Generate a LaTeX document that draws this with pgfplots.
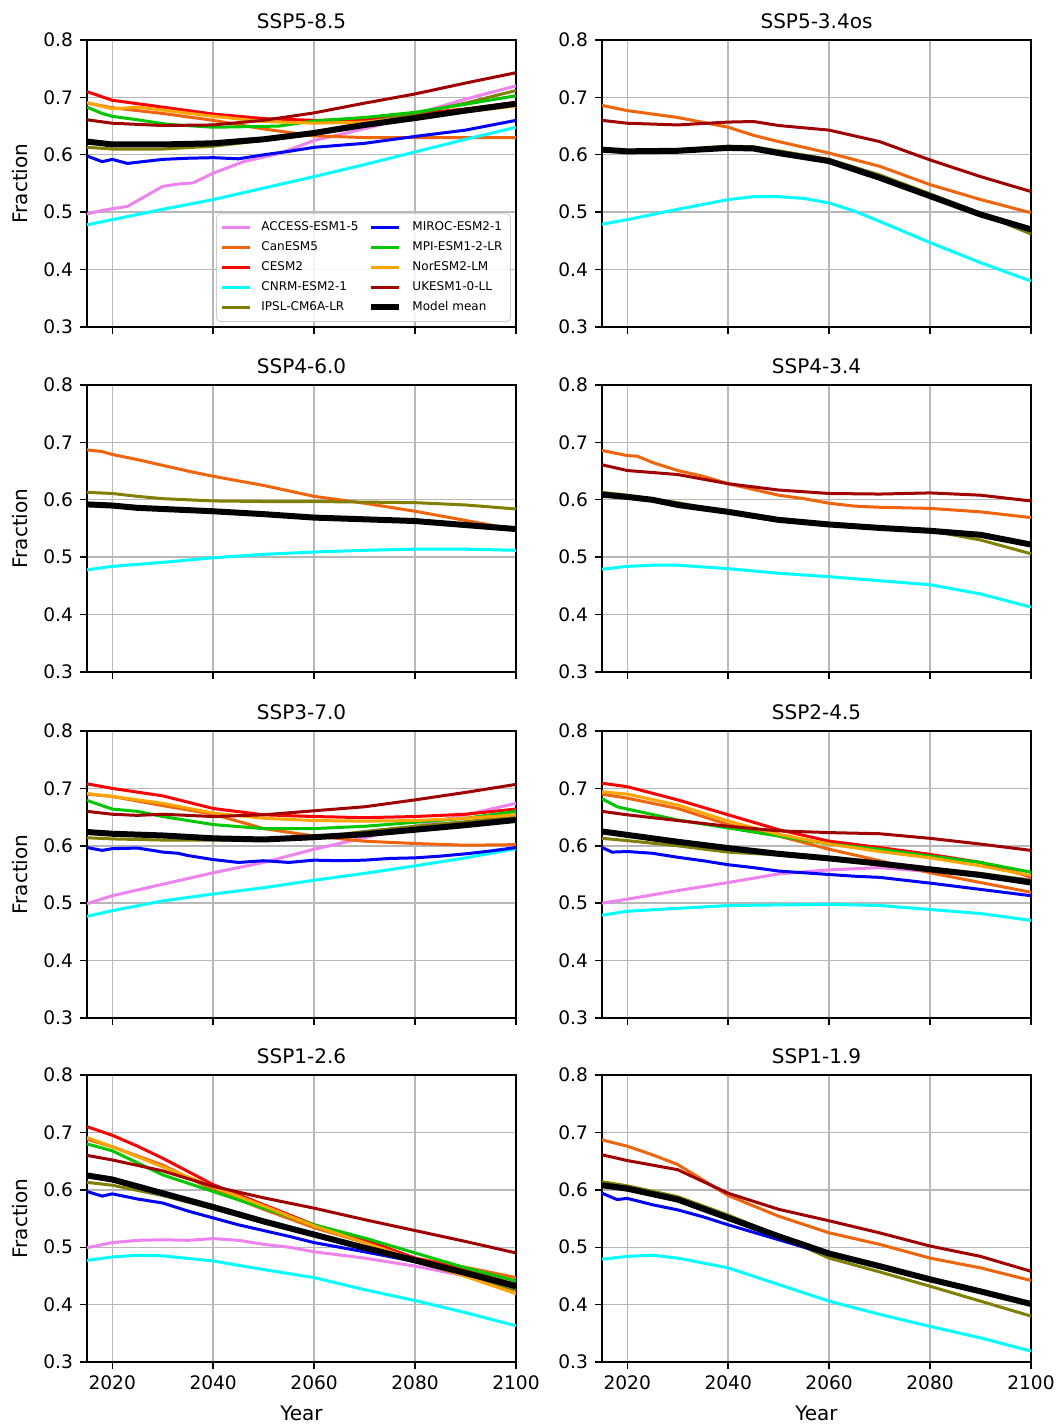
\documentclass[border=0pt]{standalone}
\usepackage{fontspec}
\setmainfont{DejaVu Sans}
\usepackage{pgfplots}
\pgfplotsset{compat=1.18}
\definecolor{cACC}{RGB}{238,130,238}
\definecolor{cCan}{RGB}{240,100,10}
\definecolor{cCESM}{RGB}{255,0,0}
\definecolor{cCNRM}{RGB}{0,255,255}
\definecolor{cIPSL}{RGB}{128,128,0}
\definecolor{cMIROC}{RGB}{0,0,255}
\definecolor{cMPI}{RGB}{0,200,0}
\definecolor{cNor}{RGB}{255,165,0}
\definecolor{cUK}{RGB}{160,0,0}
\pgfplotsset{
  acc/.style={color=cACC, line width=1.5pt},
  can/.style={color=cCan, line width=1.5pt},
  cesm/.style={color=cCESM, line width=1.5pt},
  cnrm/.style={color=cCNRM, line width=1.5pt},
  ipsl/.style={color=cIPSL, line width=1.5pt},
  miroc/.style={color=cMIROC, line width=1.5pt},
  mpi/.style={color=cMPI, line width=1.5pt},
  nor/.style={color=cNor, line width=1.5pt},
  uk/.style={color=cUK, line width=1.5pt},
  mean/.style={color=black, line width=3pt},
  panel/.style={
    scale only axis, width=214.5pt, height=143.5pt, anchor=south west,
    xmin=2015, xmax=2100, ymin=0.3, ymax=0.8,
    xtick={2020,2040,2060,2080,2100},
    ytick={0.3,0.4,0.5,0.6,0.7,0.8},
    grid=major, grid style={color=black!28, line width=0.7pt},
    axis line style={line width=0.7pt},
    tick style={line width=0.7pt, color=black},
    major tick length=3.5pt,
    tick align=outside, tick pos=left,
    /pgf/number format/assume math mode=true,
    /pgf/number format/1000 sep={},
    yticklabel style={/pgf/number format/fixed, /pgf/number format/precision=1, /pgf/number format/fixed zerofill},
    every tick label/.append style={font=\fontsize{9.3}{11}\selectfont},
    title style={at={(0.5,1)}, anchor=center, yshift=3.5pt, font=\fontsize{10}{12}\selectfont},
    every axis y label/.style={at={(rel axis cs:0,0.5)}, xshift=-33.5pt, rotate=90, anchor=center, font=\fontsize{10}{12}\selectfont},
    every axis x label/.style={at={(rel axis cs:0.5,0)}, yshift=-25.5pt, anchor=center, font=\fontsize{10}{12}\selectfont},
    no markers,
  },
}
\begin{document}
\begin{tikzpicture}
\useasboundingbox (0,0) rectangle (529.5pt,712pt);
% ---------------- SSP5-8.5
\begin{axis}[panel, at={(43.5pt,548.5pt)}, title={SSP5-8.5}, ylabel={Fraction}, xticklabels={},
  legend style={at={(rel axis cs:0.988,0.018)}, anchor=south east, font=\fontsize{6}{7}\selectfont,
    draw=black!20, rounded corners=2pt, fill=white, fill opacity=0.85, text opacity=1, column sep=3pt, inner sep=2pt},
  legend columns=2, legend cell align=left,
  legend image code/.code={\draw[#1] (0pt,0pt) -- (14pt,0pt);}]
\addplot[acc, forget plot] coordinates {(2015,0.497)(2018,0.503)(2020,0.506)(2023,0.510)(2026,0.525)(2030,0.545)(2033,0.549)(2036,0.551)(2040,0.568)(2046,0.588)(2053,0.602)(2060,0.625)(2066,0.637)(2073,0.652)(2080,0.671)(2090,0.697)(2100,0.720)};
\addplot[can, forget plot] coordinates {(2015,0.690)(2020,0.682)(2030,0.672)(2040,0.660)(2050,0.645)(2060,0.633)(2070,0.630)(2080,0.630)(2090,0.630)(2100,0.630)};
\addplot[cesm, forget plot] coordinates {(2015,0.710)(2020,0.695)(2030,0.683)(2040,0.671)(2050,0.663)(2060,0.660)(2070,0.661)(2080,0.671)(2090,0.680)(2100,0.691)};
\addplot[cnrm, forget plot] coordinates {(2015,0.478)(2020,0.487)(2030,0.505)(2040,0.522)(2050,0.542)(2060,0.562)(2070,0.583)(2080,0.605)(2090,0.627)(2100,0.648)};
\addplot[ipsl, forget plot] coordinates {(2015,0.613)(2020,0.610)(2030,0.610)(2040,0.615)(2050,0.625)(2060,0.640)(2070,0.656)(2080,0.672)(2090,0.690)(2100,0.712)};
\addplot[miroc, forget plot] coordinates {(2015,0.598)(2018,0.588)(2020,0.592)(2023,0.585)(2026,0.588)(2030,0.592)(2035,0.594)(2040,0.595)(2045,0.593)(2050,0.600)(2055,0.606)(2060,0.613)(2070,0.620)(2080,0.632)(2090,0.643)(2100,0.660)};
\addplot[mpi, forget plot] coordinates {(2015,0.683)(2018,0.672)(2020,0.667)(2025,0.661)(2031,0.653)(2040,0.648)(2053,0.650)(2060,0.659)(2070,0.665)(2080,0.674)(2090,0.688)(2100,0.703)};
\addplot[nor, forget plot] coordinates {(2015,0.691)(2020,0.680)(2025,0.683)(2030,0.678)(2040,0.667)(2050,0.658)(2060,0.655)(2070,0.657)(2080,0.665)(2090,0.675)(2100,0.685)};
\addplot[uk, forget plot] coordinates {(2015,0.661)(2020,0.655)(2030,0.651)(2040,0.652)(2050,0.660)(2060,0.673)(2070,0.690)(2080,0.706)(2090,0.725)(2100,0.743)};
\addplot[mean, forget plot] coordinates {(2015,0.623)(2020,0.618)(2030,0.618)(2040,0.620)(2050,0.627)(2060,0.638)(2070,0.652)(2080,0.664)(2090,0.677)(2100,0.689)};
\addlegendimage{acc}\addlegendentry{ACCESS-ESM1-5}
\addlegendimage{miroc}\addlegendentry{MIROC-ESM2-1}
\addlegendimage{can}\addlegendentry{CanESM5}
\addlegendimage{mpi}\addlegendentry{MPI-ESM1-2-LR}
\addlegendimage{cesm}\addlegendentry{CESM2}
\addlegendimage{nor}\addlegendentry{NorESM2-LM}
\addlegendimage{cnrm}\addlegendentry{CNRM-ESM2-1}
\addlegendimage{uk}\addlegendentry{UKESM1-0-LL}
\addlegendimage{ipsl}\addlegendentry{IPSL-CM6A-LR}
\addlegendimage{mean}\addlegendentry{Model mean}
\end{axis}
% ---------------- SSP5-3.4os
\begin{axis}[panel, at={(301pt,548.5pt)}, title={SSP5-3.4os}, xticklabels={}]
\addplot[can] coordinates {(2015,0.686)(2020,0.677)(2030,0.665)(2040,0.648)(2045,0.634)(2050,0.623)(2060,0.603)(2070,0.580)(2080,0.548)(2090,0.522)(2100,0.499)};
\addplot[cnrm] coordinates {(2015,0.479)(2020,0.487)(2030,0.505)(2040,0.522)(2045,0.527)(2050,0.527)(2055,0.524)(2060,0.516)(2065,0.502)(2070,0.484)(2080,0.447)(2090,0.412)(2100,0.380)};
\addplot[ipsl] coordinates {(2015,0.610)(2020,0.607)(2030,0.609)(2040,0.615)(2045,0.614)(2050,0.607)(2060,0.592)(2070,0.565)(2080,0.532)(2090,0.498)(2100,0.462)};
\addplot[uk] coordinates {(2015,0.660)(2020,0.655)(2030,0.652)(2040,0.657)(2045,0.658)(2050,0.651)(2060,0.643)(2070,0.623)(2080,0.591)(2090,0.562)(2100,0.536)};
\addplot[mean] coordinates {(2015,0.609)(2020,0.606)(2030,0.607)(2040,0.612)(2045,0.611)(2050,0.603)(2060,0.589)(2070,0.560)(2080,0.528)(2090,0.496)(2100,0.470)};
\end{axis}
% ---------------- SSP4-6.0
\begin{axis}[panel, at={(43.5pt,376pt)}, title={SSP4-6.0}, ylabel={Fraction}, xticklabels={}]
\addplot[can] coordinates {(2015,0.687)(2018,0.684)(2020,0.679)(2025,0.670)(2030,0.660)(2035,0.650)(2040,0.641)(2050,0.625)(2060,0.606)(2070,0.594)(2080,0.580)(2090,0.564)(2100,0.548)};
\addplot[cnrm] coordinates {(2015,0.478)(2020,0.484)(2030,0.491)(2040,0.499)(2050,0.505)(2060,0.509)(2070,0.512)(2080,0.514)(2090,0.514)(2100,0.512)};
\addplot[ipsl] coordinates {(2015,0.613)(2020,0.611)(2025,0.606)(2030,0.602)(2040,0.598)(2050,0.597)(2060,0.597)(2070,0.596)(2080,0.595)(2090,0.591)(2100,0.584)};
\addplot[mean] coordinates {(2015,0.592)(2020,0.590)(2025,0.586)(2030,0.584)(2040,0.580)(2050,0.575)(2060,0.569)(2070,0.566)(2080,0.563)(2090,0.556)(2100,0.549)};
\end{axis}
% ---------------- SSP4-3.4
\begin{axis}[panel, at={(301pt,376pt)}, title={SSP4-3.4}, xticklabels={}]
\addplot[can] coordinates {(2015,0.686)(2020,0.677)(2022,0.676)(2025,0.665)(2030,0.651)(2035,0.641)(2040,0.628)(2045,0.618)(2050,0.608)(2055,0.602)(2060,0.594)(2065,0.589)(2070,0.587)(2080,0.585)(2090,0.579)(2100,0.569)};
\addplot[cnrm] coordinates {(2015,0.479)(2020,0.484)(2025,0.486)(2030,0.486)(2040,0.480)(2050,0.472)(2060,0.466)(2070,0.459)(2080,0.452)(2090,0.436)(2100,0.413)};
\addplot[ipsl] coordinates {(2015,0.613)(2020,0.608)(2030,0.595)(2040,0.578)(2050,0.567)(2060,0.558)(2070,0.553)(2080,0.546)(2090,0.530)(2100,0.506)};
\addplot[uk] coordinates {(2015,0.661)(2020,0.651)(2030,0.644)(2040,0.628)(2050,0.617)(2060,0.611)(2070,0.610)(2080,0.612)(2090,0.608)(2100,0.598)};
\addplot[mean] coordinates {(2015,0.609)(2020,0.605)(2025,0.600)(2030,0.591)(2040,0.579)(2050,0.565)(2060,0.557)(2070,0.551)(2080,0.546)(2090,0.539)(2100,0.522)};
\end{axis}
% ---------------- SSP3-7.0
\begin{axis}[panel, at={(43.5pt,203pt)}, title={SSP3-7.0}, ylabel={Fraction}, xticklabels={}]
\addplot[acc] coordinates {(2015,0.499)(2020,0.513)(2030,0.533)(2040,0.553)(2050,0.571)(2060,0.594)(2070,0.614)(2080,0.634)(2090,0.654)(2100,0.674)};
\addplot[can] coordinates {(2015,0.690)(2020,0.686)(2030,0.670)(2040,0.655)(2050,0.630)(2060,0.617)(2070,0.608)(2080,0.604)(2090,0.601)(2100,0.602)};
\addplot[cesm] coordinates {(2015,0.708)(2020,0.700)(2030,0.687)(2040,0.665)(2050,0.654)(2060,0.651)(2070,0.649)(2080,0.651)(2090,0.655)(2100,0.664)};
\addplot[cnrm] coordinates {(2015,0.477)(2020,0.487)(2030,0.504)(2040,0.516)(2050,0.527)(2060,0.540)(2070,0.552)(2080,0.565)(2090,0.579)(2100,0.595)};
\addplot[ipsl] coordinates {(2015,0.614)(2020,0.612)(2030,0.610)(2040,0.610)(2050,0.610)(2060,0.614)(2070,0.625)(2080,0.634)(2090,0.642)(2100,0.651)};
\addplot[miroc] coordinates {(2015,0.597)(2018,0.592)(2020,0.595)(2025,0.596)(2028,0.592)(2030,0.589)(2033,0.587)(2035,0.583)(2040,0.576)(2045,0.571)(2050,0.574)(2055,0.571)(2060,0.575)(2065,0.574)(2070,0.575)(2075,0.578)(2080,0.579)(2085,0.582)(2090,0.586)(2095,0.591)(2100,0.597)};
\addplot[mpi] coordinates {(2015,0.679)(2020,0.664)(2025,0.660)(2030,0.651)(2040,0.637)(2050,0.630)(2060,0.630)(2070,0.634)(2080,0.641)(2090,0.648)(2100,0.660)};
\addplot[nor] coordinates {(2015,0.691)(2020,0.686)(2030,0.674)(2040,0.657)(2050,0.648)(2060,0.644)(2070,0.643)(2080,0.644)(2090,0.648)(2100,0.654)};
\addplot[uk] coordinates {(2015,0.660)(2020,0.655)(2025,0.653)(2030,0.655)(2040,0.651)(2050,0.654)(2060,0.661)(2070,0.668)(2080,0.680)(2090,0.693)(2100,0.707)};
\addplot[mean] coordinates {(2015,0.624)(2020,0.621)(2030,0.618)(2040,0.613)(2050,0.611)(2060,0.615)(2070,0.620)(2080,0.628)(2090,0.636)(2100,0.645)};
\end{axis}
% ---------------- SSP2-4.5
\begin{axis}[panel, at={(301pt,203pt)}, title={SSP2-4.5}, xticklabels={}]
\addplot[acc] coordinates {(2015,0.500)(2020,0.507)(2030,0.522)(2040,0.536)(2050,0.551)(2060,0.558)(2070,0.562)(2080,0.555)(2090,0.549)(2100,0.541)};
\addplot[can] coordinates {(2015,0.690)(2020,0.683)(2030,0.665)(2040,0.637)(2050,0.617)(2060,0.594)(2070,0.574)(2080,0.553)(2090,0.536)(2100,0.519)};
\addplot[cesm] coordinates {(2015,0.709)(2020,0.703)(2030,0.680)(2040,0.654)(2050,0.628)(2060,0.608)(2070,0.597)(2080,0.585)(2090,0.571)(2100,0.546)};
\addplot[cnrm] coordinates {(2015,0.479)(2020,0.486)(2030,0.491)(2040,0.496)(2050,0.497)(2060,0.498)(2070,0.496)(2080,0.489)(2090,0.482)(2100,0.470)};
\addplot[ipsl] coordinates {(2015,0.613)(2020,0.609)(2030,0.600)(2040,0.589)(2050,0.584)(2060,0.577)(2070,0.569)(2080,0.561)(2090,0.552)(2100,0.540)};
\addplot[miroc] coordinates {(2015,0.597)(2017,0.589)(2020,0.590)(2025,0.587)(2030,0.580)(2035,0.574)(2040,0.567)(2045,0.562)(2050,0.556)(2055,0.553)(2060,0.550)(2065,0.547)(2070,0.545)(2080,0.535)(2090,0.524)(2100,0.513)};
\addplot[mpi] coordinates {(2015,0.682)(2018,0.668)(2020,0.664)(2030,0.645)(2040,0.631)(2050,0.617)(2060,0.603)(2070,0.594)(2080,0.582)(2090,0.571)(2100,0.554)};
\addplot[nor] coordinates {(2015,0.694)(2020,0.690)(2030,0.671)(2040,0.643)(2050,0.620)(2060,0.603)(2070,0.590)(2080,0.579)(2090,0.565)(2100,0.548)};
\addplot[uk] coordinates {(2015,0.660)(2020,0.654)(2030,0.644)(2040,0.634)(2050,0.626)(2060,0.623)(2070,0.621)(2080,0.613)(2090,0.603)(2100,0.592)};
\addplot[mean] coordinates {(2015,0.625)(2020,0.619)(2030,0.607)(2040,0.596)(2050,0.586)(2060,0.578)(2070,0.569)(2080,0.559)(2090,0.549)(2100,0.536)};
\end{axis}
% ---------------- SSP1-2.6
\begin{axis}[panel, at={(43.5pt,31pt)}, title={SSP1-2.6}, ylabel={Fraction}, xlabel={Year}]
\addplot[acc] coordinates {(2015,0.499)(2020,0.508)(2025,0.512)(2030,0.513)(2035,0.512)(2040,0.515)(2045,0.512)(2050,0.505)(2055,0.500)(2060,0.492)(2070,0.481)(2080,0.467)(2090,0.450)(2100,0.434)};
\addplot[can] coordinates {(2015,0.688)(2020,0.675)(2030,0.643)(2040,0.600)(2050,0.566)(2060,0.534)(2070,0.508)(2080,0.481)(2090,0.465)(2100,0.447)};
\addplot[cesm] coordinates {(2015,0.710)(2020,0.695)(2025,0.676)(2030,0.655)(2035,0.632)(2040,0.609)(2050,0.574)(2060,0.539)(2070,0.513)(2080,0.481)(2090,0.461)(2100,0.435)};
\addplot[cnrm] coordinates {(2015,0.477)(2020,0.483)(2025,0.486)(2030,0.485)(2040,0.476)(2050,0.461)(2060,0.447)(2070,0.426)(2080,0.407)(2090,0.386)(2100,0.363)};
\addplot[ipsl] coordinates {(2015,0.613)(2020,0.608)(2030,0.590)(2040,0.567)(2050,0.543)(2060,0.520)(2070,0.498)(2080,0.475)(2090,0.450)(2100,0.425)};
\addplot[miroc] coordinates {(2015,0.597)(2018,0.589)(2020,0.593)(2025,0.584)(2030,0.577)(2035,0.563)(2040,0.551)(2045,0.539)(2050,0.529)(2055,0.519)(2060,0.508)(2070,0.492)(2080,0.475)(2090,0.455)(2100,0.435)};
\addplot[mpi] coordinates {(2015,0.680)(2020,0.668)(2030,0.626)(2040,0.597)(2050,0.568)(2060,0.539)(2070,0.516)(2080,0.490)(2090,0.464)(2100,0.441)};
\addplot[nor] coordinates {(2015,0.691)(2020,0.675)(2030,0.640)(2040,0.605)(2050,0.572)(2060,0.537)(2070,0.508)(2080,0.478)(2090,0.449)(2100,0.419)};
\addplot[uk] coordinates {(2015,0.660)(2020,0.652)(2030,0.633)(2040,0.606)(2050,0.586)(2060,0.568)(2070,0.548)(2080,0.529)(2090,0.510)(2100,0.490)};
\addplot[mean] coordinates {(2015,0.625)(2020,0.618)(2030,0.594)(2040,0.570)(2050,0.545)(2060,0.522)(2070,0.499)(2080,0.477)(2090,0.455)(2100,0.432)};
\end{axis}
% ---------------- SSP1-1.9
\begin{axis}[panel, at={(301pt,31pt)}, title={SSP1-1.9}, xlabel={Year}]
\addplot[can] coordinates {(2015,0.687)(2020,0.676)(2025,0.661)(2030,0.644)(2040,0.590)(2050,0.554)(2060,0.525)(2070,0.505)(2080,0.481)(2090,0.464)(2100,0.442)};
\addplot[cnrm] coordinates {(2015,0.479)(2020,0.484)(2025,0.486)(2030,0.481)(2040,0.464)(2050,0.435)(2060,0.406)(2070,0.383)(2080,0.362)(2090,0.342)(2100,0.319)};
\addplot[ipsl] coordinates {(2015,0.614)(2020,0.607)(2030,0.588)(2040,0.556)(2050,0.520)(2060,0.481)(2070,0.457)(2080,0.432)(2090,0.406)(2100,0.380)};
\addplot[miroc] coordinates {(2015,0.594)(2018,0.583)(2020,0.585)(2025,0.574)(2030,0.565)(2035,0.553)(2040,0.539)(2050,0.513)(2060,0.487)(2070,0.465)(2080,0.444)(2090,0.423)(2100,0.401)};
\addplot[uk] coordinates {(2015,0.661)(2020,0.651)(2030,0.635)(2040,0.594)(2050,0.566)(2060,0.546)(2070,0.525)(2080,0.502)(2090,0.484)(2100,0.458)};
\addplot[mean] coordinates {(2015,0.608)(2020,0.602)(2030,0.583)(2040,0.551)(2050,0.519)(2060,0.489)(2070,0.467)(2080,0.444)(2090,0.423)(2100,0.401)};
\end{axis}
\end{tikzpicture}
\end{document}
